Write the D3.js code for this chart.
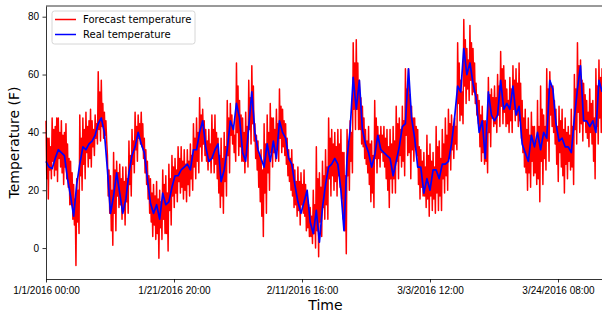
<!DOCTYPE html>
<html>
<head>
<meta charset="utf-8">
<script src="https://cdn.jsdelivr.net/npm/d3@7"></script>
<style>
	body { margin: 0; background: #fff; }
	svg { display: block; font-family: "DejaVu Sans", sans-serif; }
</style>
</head>
<body>
<svg id="chart" width="602" height="313"></svg>
<script>
// Real temperature, one reading every 12 hours from 1/1/2016 00:00
let realTemp = [
	30, 28, 27.5, 31, 34, 33, 32, 24, 18, 11, 22, 29, 35, 34, 36, 37, 39, 43, 45, 40, 27, 12, 18, 26, 19, 12, 17, 26, 32, 35, 40,
	36, 33, 24, 15.5, 12, 15, 10, 19, 15, 16, 21, 25, 25, 27, 28, 29, 27, 34, 34, 40, 44, 35, 30, 31, 34, 36, 23, 27, 34, 44,
	41, 50, 45, 33, 30, 42, 54, 40, 34, 31, 28, 36, 30, 37, 31, 44, 40, 38, 31, 29, 22, 16, 12, 16, 20, 9, 5, 13, 2, 14,
	22, 28, 29, 31, 29, 20, 6, 31, 41, 59, 48, 58, 41, 36, 33, 28, 32, 39, 34, 33, 32, 31, 25, 30, 35, 42, 43, 62, 45, 38,
	28, 28, 19, 24, 20, 27, 27, 24, 29, 29, 30, 36, 45, 56, 54, 69, 60, 64, 57, 52, 40, 44, 31, 54, 46, 44, 46, 58, 48, 50,
	48, 56, 46, 49, 36, 33, 30, 39, 35, 40, 34, 40, 38, 58, 55, 43, 37, 38, 35, 35, 33, 45, 55, 63, 44, 44, 42, 44, 40, 58, 54
]

// Forecast temperature, one value every 3 hours
let forecastTemp = [
	44, 24, 38, 17, 38, 27, 35, 24, 45, 30, 41, 25, 42, 27, 45, 23, 45, 31, 40, 28, 44, 26, 39, 22, 40, 28, 43, 24, 36, 21, 31, 15,
	30, 15, 26, 10, 22, 8, 17, -6, 24, 9, 20, 5, 46, 25, 38, 20, 45, 29, 41, 24, 47, 33, 42, 28, 44, 31, 48, 28, 44, 35, 41, 32,
	46, 38, 43, 36, 61, 41, 54, 37, 58, 42, 50, 38, 47, 39, 44, 37, 32, 18, 27, 12, 25, 6, 20, 1, 33, 12, 27, 6, 30, 18, 26, 14,
	29, 15, 24, 10, 28, 13, 23, 8, 28, 16, 24, 12, 37, 22, 32, 18, 41, 29, 37, 26, 47, 34, 42, 30, 46, 38, 43, 36,
	47, 35, 43, 31, 38, 26, 34, 22, 30, 17, 25, 12, 24, 9, 19, 4, 22, 8, 18, 3, 23, 5, 17, -3.5, 20, 7, 16, 3, 27, 10, 22, 5,
	25, 5, 19, -1, 29, 13, 24, 8, 32, 18, 28, 14, 31, 19, 27, 16, 35, 23, 31, 19, 35, 21, 30, 17, 34, 20, 29, 16, 34, 22, 30, 18,
	36, 24, 32, 20, 43, 28, 38, 24, 45, 30, 40, 26, 52, 35, 46, 30, 48, 36, 44, 32, 41, 30, 37, 27, 41, 30, 36, 26, 46, 31, 41, 26,
	46, 29, 40, 24, 38, 19, 32, 14, 38, 18, 31, 12, 40, 23, 35, 18, 51, 32, 45, 26, 50, 39, 46, 36,
	42, 33, 39, 30, 64, 40, 56, 32, 51, 35, 46, 30, 45, 30, 40, 26, 47, 32, 42, 28, 58, 41, 52, 36, 63, 43, 56, 37, 43, 31, 39, 27,
	37, 21, 32, 16, 34, 11, 27, 4, 43, 19, 36, 12, 46, 26, 40, 20, 50, 33, 45, 28, 45, 33, 41, 30, 48, 34, 43, 30, 55, 38, 49, 33,
	48, 35, 44, 32, 43, 29, 38, 25, 34, 23, 31, 20, 34, 18, 29, 14, 27, 15, 23, 11, 28, 13, 23, 8, 26, 15, 22, 12, 27, 11, 22, 6,
	18, 7, 15, 4, 14, 4, 11, 1.6, 20, 5, 15, 0, 35, 6, 24, -3, 26, 9, 21, 4, 30, 14, 25, 10,
	34, 15, 28, 10, 45, 24, 38, 18, 41, 25, 36, 20, 40, 23, 35, 18, 41, 25, 36, 21, 41, 17, 33, 10, 33, 6, 25, -2, 41, 25, 36, 20,
	44, 30, 40, 26, 71, 48, 64, 41, 72, 48, 64, 41, 58, 41, 52, 36, 49, 35, 45, 31, 41, 29, 37, 26, 42, 22, 36, 16, 37, 19, 32, 14,
	51, 31, 45, 26, 42, 31, 39, 28, 42, 33, 39, 30, 42, 28, 38, 24, 41, 20, 35, 14, 41, 24, 36, 19, 42, 24, 37, 19, 49, 30, 43, 24,
	45, 32, 41, 28, 49, 30, 44, 25, 62, 39, 55, 32, 62, 33, 53, 24, 49, 34, 45, 30, 45, 35, 42, 32,
	41, 22, 35, 17, 34, 21, 30, 18, 33, 18, 28, 14, 39, 17, 32, 11, 36, 18, 30, 13, 33, 17, 28, 12, 42, 19, 35, 13, 37, 18, 31, 13,
	41, 24, 36, 19, 45, 25, 39, 20, 48, 31, 43, 27, 46, 34, 42, 31, 45, 36, 42, 34, 71, 50, 64, 44, 58, 46, 54, 43, 79, 56, 72, 50,
	69, 55, 65, 51, 77, 58, 71, 53, 69, 54, 64, 50, 57, 46, 53, 43, 51, 35, 46, 30, 49, 33, 44, 29, 44, 30, 40, 26, 59, 40, 53, 35,
	55, 45, 52, 42, 56, 43, 52, 40, 60, 46, 56, 42, 68, 49, 62, 43, 63, 47, 58, 42, 55, 43, 51, 40,
	59, 44, 55, 40, 63, 48, 58, 44, 62, 46, 57, 42, 64, 44, 57, 38, 51, 33, 45, 28, 48, 26, 41, 20, 45, 26, 39, 21, 47, 30, 42, 25,
	42, 26, 37, 22, 51, 24, 42, 16, 56, 30, 48, 22, 46, 31, 42, 27, 62, 37, 55, 30, 61, 46, 56, 42, 56, 40, 51, 36, 48, 29, 42, 23,
	49, 33, 44, 28, 48, 25, 41, 19, 45, 29, 40, 24, 42, 30, 39, 27, 48, 28, 42, 22, 60, 41, 55, 36, 71, 47, 63, 40, 65, 43, 58, 37,
	57, 44, 53, 40, 51, 38, 47, 35, 55, 40, 50, 36, 51, 30, 45, 24, 62, 42, 56, 36, 65, 45, 59, 40, 62, 49, 58, 45
]

let realStep = 12
let forecastStep = 3

let xTickHours = [0, 500, 1000, 1500, 2000]
let xTickLabels = ["1/1/2016 00:00", "1/21/2016 20:00", "2/11/2016 16:00", "3/3/2016 12:00", "3/24/2016 08:00"]
let yTicks = [0, 20, 40, 60, 80]

let seriesNames = ["Forecast temperature", "Real temperature"]
let seriesColours = ["#ff0000", "#0000ff"]

let lastHour = 2183
let margin = { left: 46, top: 6, bottom: 279 }

let svg = d3.select("#chart")

let x = d3.scaleLinear()
	.domain([0, lastHour])
	.range([margin.left, margin.left + lastHour * 0.256])
let y = d3.scaleLinear()
	.domain([-10.7, 83.7])
	.range([margin.bottom, margin.top])

let line = step => d3.line()
	.x((d, i) => x(i * step))
	.y(d => y(d))

// Series: forecast underneath, real on top
svg.append("path")
	.datum(forecastTemp)
	.attr("d", line(forecastStep))
	.attr("fill", "none")
	.attr("stroke", seriesColours[0])
	.attr("stroke-width", 1.5)
	.attr("stroke-linejoin", "round")

svg.append("path")
	.datum(realTemp)
	.attr("d", line(realStep))
	.attr("fill", "none")
	.attr("stroke", seriesColours[1])
	.attr("stroke-width", 1.7)
	.attr("stroke-linejoin", "round")

// Axes
let xAxis = svg.append("g")
	.attr("transform", `translate(0, ${margin.bottom})`)
	.call(d3.axisBottom(x)
		.tickValues(xTickHours)
		.tickFormat((d, i) => xTickLabels[i])
		.tickSizeInner(3.5)
		.tickSizeOuter(0)
		.tickPadding(4.5))
xAxis.select(".domain").attr("stroke", "#000").attr("stroke-width", 0.8)
xAxis.selectAll(".tick line").attr("stroke", "#000").attr("stroke-width", 0.8)
xAxis.selectAll("text")
	.style("font-size", "10px")
	.attr("fill", "#000")

let yAxis = svg.append("g")
	.attr("transform", `translate(${margin.left}, 0)`)
	.call(d3.axisLeft(y)
		.tickValues(yTicks)
		.tickSizeInner(3.5)
		.tickSizeOuter(0)
		.tickPadding(3.5))
yAxis.select(".domain").attr("stroke", "#000").attr("stroke-width", 0.8)
yAxis.selectAll(".tick line").attr("stroke", "#000").attr("stroke-width", 0.8)
yAxis.selectAll("text")
	.style("font-size", "10px")
	.attr("fill", "#000")

// Top spine
svg.append("line")
	.attr("x1", x(0)).attr("x2", x(lastHour))
	.attr("y1", margin.top).attr("y2", margin.top)
	.attr("stroke", "#000")
	.attr("stroke-width", 0.8)

// Axis labels
svg.append("text")
	.attr("x", (x(0) + x(lastHour)) / 2)
	.attr("y", 310)
	.attr("text-anchor", "middle")
	.style("font-size", "14px")
	.text("Time")

svg.append("text")
	.attr("transform", `translate(19, ${(margin.top + margin.bottom) / 2}) rotate(-90)`)
	.attr("text-anchor", "middle")
	.style("font-size", "14px")
	.text("Temperature (F)")

// Legend
let legend = svg.append("g")
	.attr("transform", "translate(52, 11)")
legend.append("rect")
	.attr("width", 143)
	.attr("height", 33)
	.attr("rx", 2.5)
	.attr("fill", "#fff")
	.attr("fill-opacity", 0.8)
	.attr("stroke", "#cccccc")
	.attr("stroke-width", 0.8)

let entries = legend.selectAll("g.entry")
	.data(seriesNames)
	.join("g")
	.attr("class", "entry")
	.attr("transform", (d, i) => `translate(0, ${8.5 + i * 15})`)
entries.append("line")
	.attr("x1", 3).attr("x2", 24)
	.attr("stroke", (d, i) => seriesColours[i])
	.attr("stroke-width", 1.5)
entries.append("text")
	.attr("x", 31)
	.attr("dy", "0.35em")
	.style("font-size", "10px")
	.text(d => d)
</script>
</body>
</html>
